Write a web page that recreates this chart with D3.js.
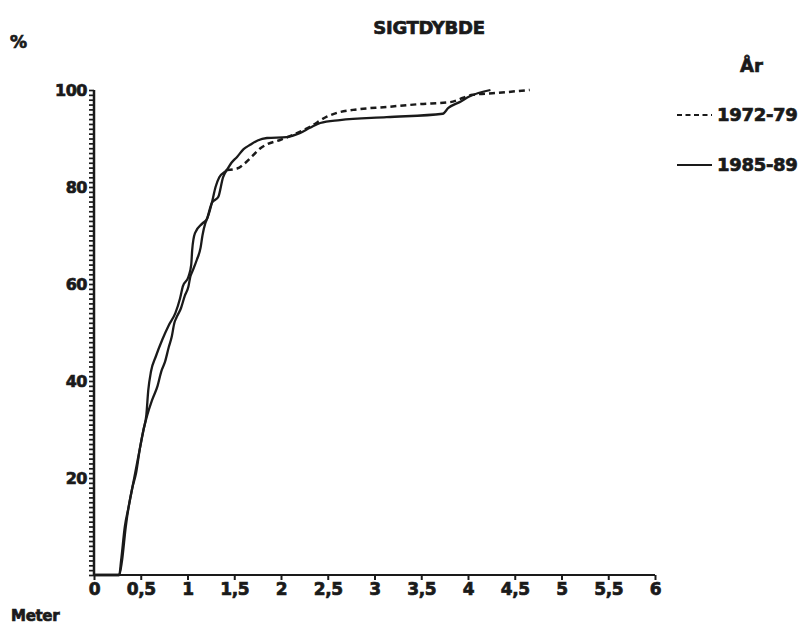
<!DOCTYPE html>
<html>
<head>
<meta charset="utf-8">
<script src="https://cdn.jsdelivr.net/npm/d3@7"></script>
<style>
  html, body { margin: 0; padding: 0; background: #fff; }
  svg { display: block; }
  text { font-family: "DejaVu Sans", "Liberation Sans", sans-serif; font-weight: bold;
         fill: #1a1a1a; stroke: #1a1a1a; stroke-width: 0.7px; paint-order: stroke; }
</style>
</head>
<body>
<svg id="chart" width="807" height="627"></svg>
<script>
// ---- data ----
const title = "SIGTDYBDE";
const seriesNames = ["1972-79", "1985-89"];
// x: Meter, y: cumulative %
const series1972 = [
  [0,0],[0.27,0],[0.30,3],[0.34,10],[0.37,14],[0.41,18],[0.45,21],[0.49,26],[0.53,30],
  [0.57,33],[0.62,36],[0.68,39],[0.72,42],[0.76,44],[0.80,47],[0.83,49],[0.86,52],
  [0.88,53],[0.93,55],[0.97,57.5],[1.01,59.5],[1.03,61.5],[1.05,62.5],[1.10,65],
  [1.14,67.5],[1.16,70],[1.19,72.5],[1.21,73.5],[1.26,76.7],[1.33,78],[1.38,82],
  [1.42,83.5],[1.53,83.8],[1.62,85],[1.70,86.5],[1.78,88],[1.85,88.8],[1.99,89.7],
  [2.17,91.1],[2.31,92.4],[2.49,94.5],[2.60,95.3],[2.77,95.9],[3.13,96.5],[3.49,97.1],
  [3.81,97.5],[3.95,98.4],[4.05,99.0],[4.31,99.4],[4.66,100]
];
const series1985 = [
  [0,0],[0.27,0],[0.29,3],[0.33,10],[0.37,14],[0.40,17],[0.44,21],[0.49,26],[0.53,30],
  [0.56,33],[0.58,38],[0.61,42],[0.66,45],[0.73,48.5],[0.80,51.5],[0.87,54],[0.92,57],
  [0.95,59.5],[1.01,61.5],[1.04,64],[1.05,67],[1.08,70.5],[1.16,72.5],[1.21,73.5],
  [1.26,76.7],[1.30,80],[1.34,82],[1.42,83.5],[1.47,85],[1.53,86.2],[1.60,87.8],
  [1.67,88.7],[1.75,89.6],[1.85,90.1],[2.06,90.3],[2.20,91.1],[2.31,92.2],[2.42,93.2],
  [2.63,93.8],[3.13,94.4],[3.73,95.1],[3.79,96.3],[3.91,97.5],[4.02,98.7],[4.24,100]
];
const xTicks = [0,0.5,1,1.5,2,2.5,3,3.5,4,4.5,5,5.5,6];
const xTickLabels = ["0","0,5","1","1,5","2","2,5","3","3,5","4","4,5","5","5,5","6"];
const yMajorTicks = [20,40,60,80,100];
const yAxisLabel = "%";
const xAxisLabel = "Meter";
const legendTitle = "År";

// ---- drawing ----
const svg = d3.select("#chart");
const ink = "#1a1a1a";
const x = d3.scaleLinear().domain([0, 6]).range([94, 655]);
const y = d3.scaleLinear().domain([0, 100]).range([575, 90]);

// title and axis names
svg.append("text").attr("x", 429).attr("y", 34).attr("text-anchor", "middle")
  .attr("font-size", 18).attr("letter-spacing", -0.3).text(title);
svg.append("text").attr("x", 10).attr("y", 48).attr("font-size", 17).text(yAxisLabel);
svg.append("text").attr("x", 11).attr("y", 621).attr("font-size", 15).attr("letter-spacing", -0.3).text(xAxisLabel);

// y axis
const yAxis = d3.axisLeft(y)
  .tickValues(d3.range(0, 101, 1))
  .tickSize(5)
  .tickPadding(2)
  .tickFormat(d => yMajorTicks.includes(d) ? String(d) : "");
const gy = svg.append("g").attr("transform", "translate(94,0)").call(yAxis);
gy.select(".domain").attr("stroke", ink).attr("stroke-width", 2.5).attr("d", `M0,${y(100)}V${y(0)}`);
gy.selectAll(".tick line").attr("stroke", ink).attr("stroke-width", 1.7);
gy.selectAll(".tick text").attr("font-size", 16).attr("font-family", "DejaVu Sans")
  .attr("font-weight", "bold").attr("fill", ink).attr("letter-spacing", -0.5);

// x axis
const xAxis = d3.axisBottom(x)
  .tickValues(xTicks)
  .tickSize(5)
  .tickPadding(3)
  .tickFormat((d, i) => xTickLabels[i]);
const gx = svg.append("g").attr("transform", "translate(0,575)").call(xAxis);
gx.select(".domain").attr("stroke", ink).attr("stroke-width", 2).attr("d", `M${x(0)},0H${x(6)}`);
gx.selectAll(".tick line").attr("stroke", ink).attr("stroke-width", 2);
gx.selectAll(".tick text").attr("font-size", 17).attr("font-family", "DejaVu Sans")
  .attr("font-weight", "bold").attr("fill", ink).attr("letter-spacing", -0.4);

// lines
const line = d3.line().x(d => x(d[0])).y(d => y(d[1])).curve(d3.curveMonotoneX);
const splitAt = 1.42;
// 1972-79: steep part drawn continuous (as in the plot), flat part dashed
svg.append("path").datum(series1972.filter(d => d[0] <= splitAt))
  .attr("d", line).attr("fill", "none").attr("stroke", ink).attr("stroke-width", 2.3)
  .attr("stroke-linejoin", "round");
svg.append("path").datum(series1972.filter(d => d[0] >= splitAt))
  .attr("d", line).attr("fill", "none").attr("stroke", ink).attr("stroke-width", 2.5)
  .attr("stroke-dasharray", "6,4");
svg.append("path").datum(series1985)
  .attr("d", line).attr("fill", "none").attr("stroke", ink).attr("stroke-width", 2.3)
  .attr("stroke-linejoin", "round");

// legend
svg.append("text").attr("x", 740).attr("y", 72).attr("font-size", 18).text(legendTitle);
const leg = [
  { name: seriesNames[0], dash: "5,3.5", y: 115 },
  { name: seriesNames[1], dash: null, y: 165 }
];
leg.forEach(l => {
  svg.append("line").attr("x1", 677).attr("x2", 712).attr("y1", l.y).attr("y2", l.y)
    .attr("stroke", ink).attr("stroke-width", 2).attr("stroke-dasharray", l.dash);
  svg.append("text").attr("x", 717).attr("y", l.y + 6).attr("font-size", 18)
    .attr("letter-spacing", -0.3).text(l.name);
});
</script>
</body>
</html>
